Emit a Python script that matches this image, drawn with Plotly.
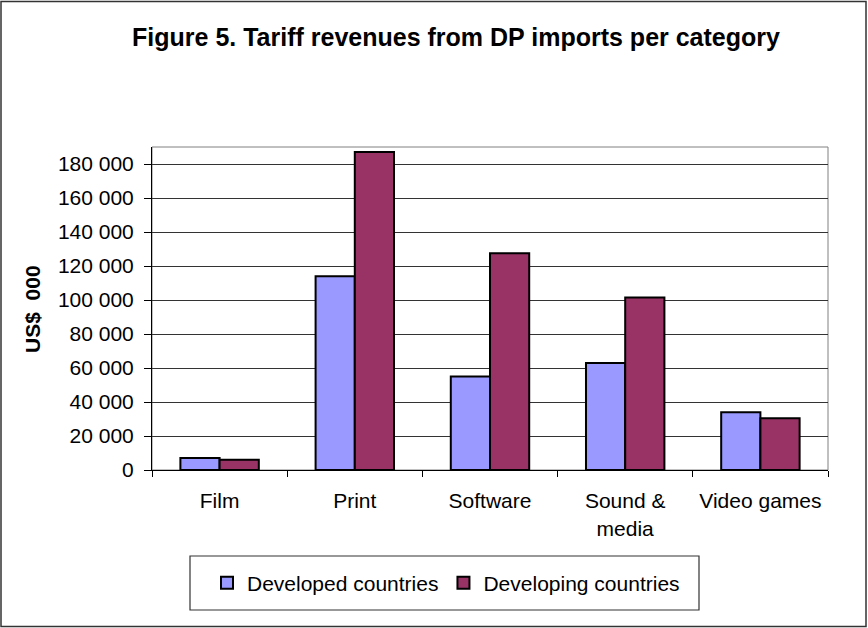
import plotly.graph_objects as go

categories = ["Film", "Print", "Software", "Sound &<br>media", "Video games"]
developed = [7000, 114000, 55000, 63000, 34000]
developing = [6000, 187000, 127500, 101500, 30500]
series_names = ["Developed countries", "Developing countries"]
tick_vals = [0, 20000, 40000, 60000, 80000, 100000, 120000, 140000, 160000, 180000]

W, H = 868, 628
L, R, T, B = 152, 40, 147, 158
PW, PH = W - L - R, H - T - B
FONT = "Arial, Liberation Sans, sans-serif"


def px_x(x):
    return (x - L) / PW


def px_y(y):
    return (H - B - y) / PH


fig = go.Figure()
fig.add_trace(go.Bar(x=categories, y=developed, name=series_names[0],
                     marker=dict(color="#9999FF", line=dict(color="black", width=2))))
fig.add_trace(go.Bar(x=categories, y=developing, name=series_names[1],
                     marker=dict(color="#993366", line=dict(color="black", width=2))))

fig.update_layout(
    width=W, height=H,
    margin=dict(l=L, r=R, t=T, b=B, autoexpand=False),
    paper_bgcolor="white", plot_bgcolor="white",
    font=dict(family=FONT, size=21, color="black"),
    separators=". ",
    barmode="group", bargap=0.42, bargroupgap=0,
    title=dict(text="<b>Figure 5. Tariff revenues from DP imports per category</b>",
               x=456 / W, xanchor="center", y=1 - 37 / H, yanchor="middle",
               font=dict(family=FONT, size=25, color="black")),
    showlegend=True,
    legend=dict(orientation="h", x=px_x(446), xanchor="center", y=px_y(583), yanchor="middle",
                borderwidth=0, bgcolor="rgba(0,0,0,0)",
                font=dict(family=FONT, size=21, color="black"),
                itemwidth=30, tracegroupgap=0),
)
fig.update_xaxes(showline=True, linecolor="black", linewidth=1,
                 ticks="outside", tickson="boundaries", ticklen=6, tickcolor="black",
                 ticklabelstandoff=12,
                 tickfont=dict(family=FONT, size=21, color="black"),
                 showgrid=False, mirror=False)
fig.update_yaxes(range=[0, 190000], tickvals=tick_vals, tickformat=",d",
                 showline=True, linecolor="black", linewidth=1,
                 ticks="outside", ticklen=7, tickcolor="black",
                 ticklabelstandoff=6,
                 tickfont=dict(family=FONT, size=21, color="black"),
                 showgrid=True, gridcolor="#333333", gridwidth=1, zeroline=False)

# plot area border (gray)
fig.add_shape(type="rect", xref="paper", yref="paper", x0=0, x1=1, y0=0, y1=1,
              line=dict(color="#808080", width=1), layer="below")
# outer chart border
fig.add_shape(type="rect", xref="paper", yref="paper",
              x0=px_x(1), x1=px_x(866), y0=px_y(626.5), y1=px_y(1.5),
              line=dict(color="#333333", width=1.5))
# legend box
fig.add_shape(type="rect", xref="paper", yref="paper",
              x0=px_x(190), x1=px_x(699), y0=px_y(610), y1=px_y(556),
              line=dict(color="#333333", width=1.2), fillcolor="rgba(0,0,0,0)")

fig.add_annotation(text="<b>US$&nbsp; 000</b>", xref="paper", yref="paper",
                   x=px_x(32), y=px_y(309),
                   textangle=-90, showarrow=False, xanchor="center", yanchor="middle",
                   font=dict(family=FONT, size=21, color="black"))

fig.write_html("out.html", config={"displayModeBar": False},
               post_script="document.body.style.margin='0';")
